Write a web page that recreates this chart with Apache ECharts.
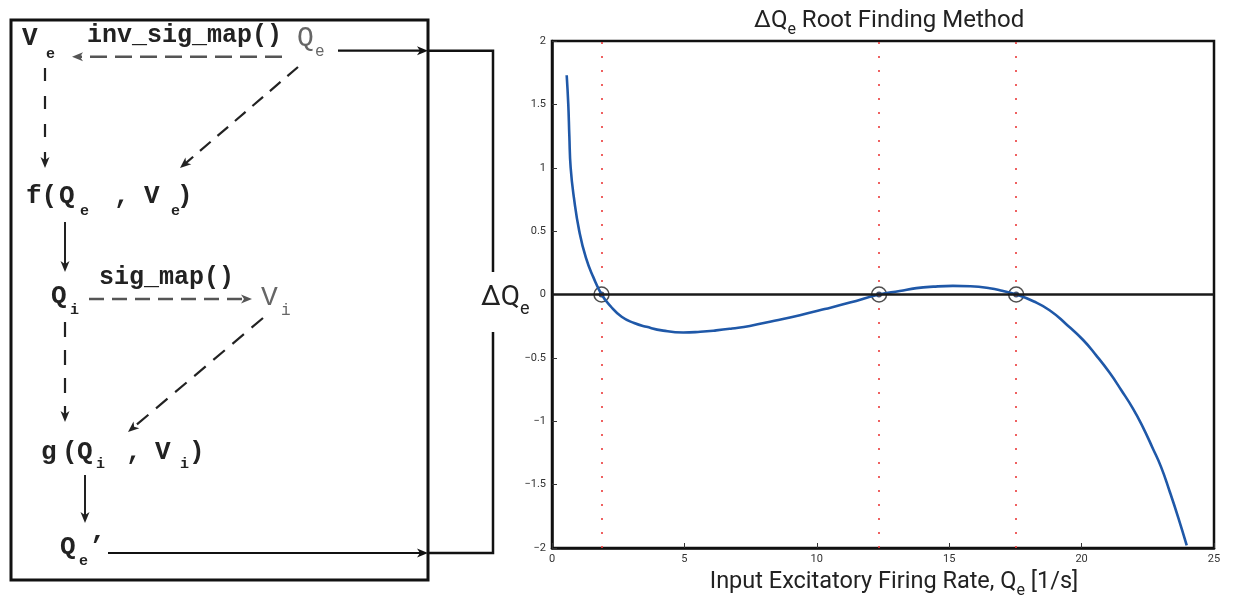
<!DOCTYPE html>
<html>
<head>
<meta charset="utf-8">
<script src="https://cdn.jsdelivr.net/npm/echarts@6/dist/echarts.min.js"></script>
<style>
html,body{margin:0;padding:0;background:#fff;}
#chart{width:1235px;height:604px;}
</style>
</head>
<body>
<div id="chart"></div>
<script>
// ---- data ----
const qe = [0.555,0.615,0.655,0.705,0.83,1.03,1.28,1.56,1.875,2.2,2.63,3.1,3.57,4.2,4.955,5.6,6.2,6.8,7.47,8.4,9.36,10.3,11.25,12.35,13.13,13.76,14.4,15.14,15.8,16.53,17.0,17.53,18.2,18.79,19.4,20.05,20.55,21.06,21.5,21.94,22.3,22.69,23.0,23.32,23.65,23.97];
const dQe = [1.73,1.5,1.25,1.0,0.76,0.5,0.29,0.137,0,-0.09,-0.176,-0.225,-0.255,-0.285,-0.30,-0.294,-0.283,-0.268,-0.248,-0.207,-0.163,-0.115,-0.064,0,0.027,0.05,0.062,0.068,0.065,0.05,0.03,0,-0.055,-0.124,-0.23,-0.357,-0.48,-0.618,-0.755,-0.90,-1.04,-1.215,-1.36,-1.55,-1.76,-1.98];
const roots = [1.87, 12.35, 17.53];
const xRange = {min: 0, max: 25, interval: 5};
const yRange = {min: -2, max: 2, interval: 0.5};

const chart = echarts.init(document.getElementById('chart'), null, {renderer: 'canvas'});

// ---- diagram helpers ----
const G = [];
function arrow(x1, y1, x2, y2, color, dash, w) {
  const L = 11, W = 4.5, notch = 3;
  const a = Math.atan2(y2 - y1, x2 - x1);
  const ux = Math.cos(a), uy = Math.sin(a), px = -uy, py = ux;
  const bx = x2 - ux * L, by = y2 - uy * L;
  const nx = x2 - ux * (L - notch), ny = y2 - uy * (L - notch);
  G.push({type: 'line', shape: {x1: x1, y1: y1, x2: nx, y2: ny},
    style: {stroke: color, lineWidth: w, lineDash: dash || null}, silent: true});
  G.push({type: 'polygon', shape: {points: [[x2, y2], [bx + px * W, by + py * W], [nx, ny], [bx - px * W, by - py * W]]},
    style: {fill: color}, silent: true});
}
function txt(x, y, t, size, opts) {
  opts = opts || {};
  G.push({type: 'text', x: x, y: y, silent: true,
    style: {text: t, fill: opts.color || '#222',
      font: (opts.weight || 'bold') + ' ' + size + 'px "Liberation Mono", "DejaVu Sans Mono", monospace',
      textAlign: 'left', textVerticalAlign: 'middle', verticalAlign: 'middle'}});
}
// box
G.push({type: 'rect', shape: {x: 11, y: 20, width: 417, height: 560}, style: {fill: 'none', stroke: '#111', lineWidth: 3}, silent: true});
// connector to the plot
G.push({type: 'polyline', shape: {points: [[428, 50.7], [493, 50.7], [493, 272]]}, style: {fill: 'none', stroke: '#111', lineWidth: 2.5}, silent: true});
G.push({type: 'polyline', shape: {points: [[428, 553], [493, 553], [493, 332]]}, style: {fill: 'none', stroke: '#111', lineWidth: 2.5}, silent: true});
G.push({type: 'text', x: 481, y: 301, silent: true,
  style: {text: '{a|ΔQ}{s|e}', rich: {
    a: {fontSize: 28, fontFamily: 'Roboto', fontWeight: 'normal', fill: '#222', color: '#222', verticalAlign: 'bottom', padding: [0, 0, 6, 0]},
    s: {fontSize: 18, fontFamily: 'Roboto', fontWeight: 'normal', fill: '#222', color: '#222', verticalAlign: 'bottom'}},
    textVerticalAlign: 'middle', verticalAlign: 'middle'}});

// texts
txt(22, 38.5, 'V', 26);
txt(46, 54, 'e', 15);
txt(87, 36, 'inv_sig_map()', 25);
txt(297, 37.5, 'Q', 28, {weight: 'normal', color: '#666'});
txt(315, 52, 'e', 16, {weight: 'normal', color: '#666'});

txt(26, 196.5, 'f(', 26);
txt(59, 196.5, 'Q', 26);
txt(80, 211, 'e', 15);
txt(114, 196.5, ',', 26);
txt(144, 196.5, 'V', 26);
txt(171, 211, 'e', 15);
txt(177, 196.5, ')', 26);

txt(51, 296.5, 'Q', 26);
txt(70, 310, 'i', 15);
txt(99, 278, 'sig_map()', 25);
txt(261, 297.5, 'V', 28, {weight: 'normal', color: '#666'});
txt(281, 311, 'i', 16, {weight: 'normal', color: '#666'});

txt(41, 452.5, 'g', 26);
txt(62, 452.5, '(', 26);
txt(77, 452.5, 'Q', 26);
txt(96, 464, 'i', 15);
txt(126, 452.5, ',', 26);
txt(155, 452.5, 'V', 26);
txt(180, 464, 'i', 15);
txt(189, 452.5, ')', 26);

txt(60, 547.5, 'Q', 26);
txt(79, 561, 'e', 15);
txt(89, 547.5, '\u2019', 26);

// arrows
arrow(282, 56.7, 72, 56.7, '#555', [17, 8], 2.5);
arrow(298, 67, 180, 168, '#222', [14, 9], 2.2);
arrow(45, 68, 45, 168, '#222', [13, 15], 2.2);
arrow(65, 222, 65, 272, '#222', null, 2);
arrow(89, 299, 252, 299, '#555', [15, 8], 2.5);
arrow(263, 318, 128, 432, '#222', [15, 10], 2.2);
arrow(65, 322, 65, 422, '#222', [15, 13], 2.2);
arrow(85, 475, 85, 523, '#222', null, 2);
arrow(338, 50.7, 428, 50.7, '#111', null, 2.2);
arrow(108, 553, 428, 553, '#111', null, 2.2);

const minusFmt = v => String(v).replace('-', '\u2212');

const option = {
  animation: false,
  backgroundColor: '#fff',
  title: {
    text: '{a|ΔQ}{s|e}{a| Root Finding Method}',
    left: 749, top: 4,
    textStyle: {fontWeight: 'normal', rich: {
      a: {fontSize: 24, fontFamily: 'Roboto', fontWeight: 'normal', color: '#222', verticalAlign: 'bottom', padding: [0, 0, 5, 0]},
      s: {fontSize: 16, fontFamily: 'Roboto', fontWeight: 'normal', color: '#222', verticalAlign: 'bottom'}
    }}
  },
  grid: {left: 552, right: 21, top: 41, bottom: 50, show: true, borderColor: '#111', borderWidth: 2.5, containLabel: false},
  xAxis: {
    type: 'value', min: xRange.min, max: xRange.max, interval: xRange.interval,
    axisLine: {show: true, onZero: false, lineStyle: {color: '#111', width: 2.5}},
    axisTick: {show: true, inside: true, length: 5, lineStyle: {color: '#333', width: 1}},
    axisLabel: {color: '#333', fontSize: 11, fontFamily: 'Roboto', margin: 6, formatter: minusFmt},
    splitLine: {show: false},
    name: '{p|}{a|Input Excitatory Firing Rate, Q}{s|e}{a| [1/s]}',
    nameLocation: 'middle', nameGap: 22,
    nameTextStyle: {rich: {
      p: {width: 22, fontSize: 23},
      a: {fontSize: 23.5, fontFamily: 'Roboto', color: '#222', verticalAlign: 'bottom', padding: [0, 0, 5, 0]},
      s: {fontSize: 16, fontFamily: 'Roboto', color: '#222', verticalAlign: 'bottom'}
    }}
  },
  yAxis: {
    type: 'value', min: yRange.min, max: yRange.max, interval: yRange.interval,
    axisLine: {show: true, onZero: false, lineStyle: {color: '#111', width: 2.5}},
    axisTick: {show: true, inside: true, length: 5, lineStyle: {color: '#333', width: 1}},
    axisLabel: {color: '#333', fontSize: 11, fontFamily: 'Roboto', margin: 6, formatter: minusFmt},
    splitLine: {show: false}
  },
  graphic: G,
  series: [
    {
      type: 'line', data: [], silent: true,
      markLine: {
        silent: true, symbol: ['none', 'none'], label: {show: false}, animation: false,
        data: [
          ...roots.map(r => ({xAxis: r, lineStyle: {color: '#ec3b3b', width: 1.6, type: [2, 12]}})),
          {yAxis: 0, lineStyle: {color: '#1a1a1a', width: 2.5, type: 'solid'}}
        ]
      }
    },
    {
      type: 'line', data: qe.map((x, i) => [x, dQe[i]]),
      smooth: 0.5, showSymbol: false, silent: true,
      lineStyle: {color: '#1f58a8', width: 2.6}, itemStyle: {color: '#1f58a8'}
    },
    {
      type: 'scatter', data: roots.map(r => [r, 0]), symbol: 'circle', symbolSize: 15, silent: true,
      itemStyle: {color: 'rgba(0,0,0,0)', borderColor: '#222', borderWidth: 1.5}
    },
    {
      type: 'scatter', data: roots.map(r => [r, 0]), symbol: 'circle', symbolSize: 6, silent: true,
      itemStyle: {color: '#1c2c4c'}
    }
  ]
};
chart.setOption(option);
</script>
</body>
</html>
